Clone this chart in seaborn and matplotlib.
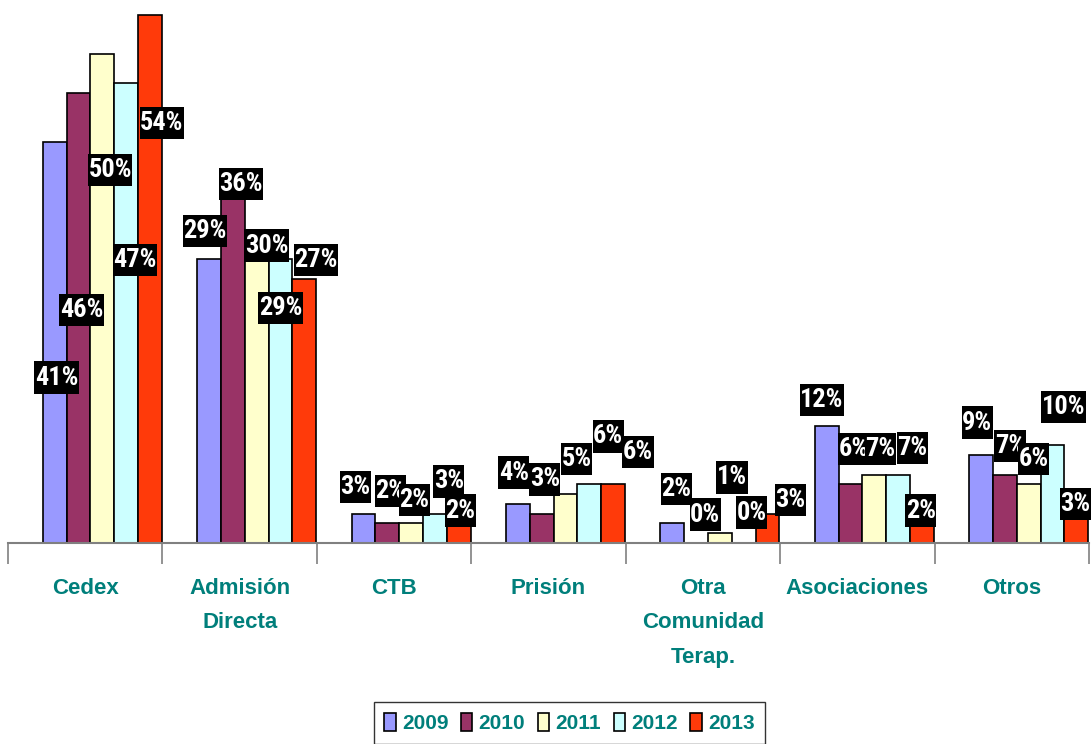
import matplotlib
matplotlib.use("Agg")
import matplotlib.pyplot as plt
from matplotlib.path import Path
from matplotlib.ticker import FixedLocator
import seaborn as sns
import pandas as pd

# Share of admissions by referral source, per year (%)
categories = ["Cedex", "Admisión\nDirecta", "CTB", "Prisión",
              "Otra\nComunidad\nTerap.", "Asociaciones", "Otros"]
years = ["2009", "2010", "2011", "2012", "2013"]
v2009 = [41, 29, 3, 4, 2, 12, 9]
v2010 = [46, 36, 2, 3, 0, 6, 7]
v2011 = [50, 30, 2, 5, 1, 7, 6]
v2012 = [47, 29, 3, 6, 0, 7, 10]
v2013 = [54, 27, 2, 6, 3, 2, 3]
values = [v2009, v2010, v2011, v2012, v2013]

# Where each value box sits (height in % units, sideways nudge in pixels)
label_y = [
    [16.9, 31.9, 5.7, 7.2, 5.5, 14.6, 12.3],
    [23.8, 36.7, 5.3, 6.5, 2.9, 9.6, 9.9],
    [38.1, 30.4, 4.4, 8.6, 6.7, 9.6, 8.6],
    [28.9, 24.0, 6.3, 10.9, 3.1, 9.7, 13.9],
    [42.9, 28.9, 3.3, 9.3, 4.4, 3.3, 4.0],
]
label_dx = [
    [2, -4, -8, -4, 4, -5, -4],
    [3, 8, 3, 3, 9, 3, 5],
    [8, 10, 3, 11, 12, 6, 5],
    [9, 0, 14, 19, 8, 14, 11],
    [12, 12, 2, 25, 23, -1, -1],
]

colors = ["#9999FF", "#993366", "#FFFFCC", "#CCFFFF", "#FF3A0A"]
teal = "#007F7B"

df = pd.DataFrame({
    "categoria": [c for _ in years for c in categories],
    "año": [y for y in years for _ in categories],
    "pct": [v for series in values for v in series],
})


class TallBox:
    """Rectangular text box with separate horizontal / vertical padding."""

    def __init__(self, padx=0.02, pady=0.16):
        self.padx, self.pady = padx, pady

    def __call__(self, x0, y0, width, height, mutation_size):
        px, py = self.padx * mutation_size, self.pady * mutation_size
        x0, y0 = x0 - px, y0 - py
        x1, y1 = x0 + width + 2 * px, y0 + height + 2 * py
        return Path([(x0, y0), (x1, y0), (x1, y1), (x0, y1), (x0, y0)],
                    closed=True)


sns.set_theme(style="white")
plt.rcParams["font.family"] = ["Liberation Sans", "DejaVu Sans"]
narrow = ["Roboto Condensed", "Archivo Narrow", "Barlow Condensed",
          "Liberation Sans"]

fig = plt.figure(figsize=(10.91, 7.44), dpi=100)
ax = fig.add_axes([8 / 1091, 201 / 744, 1081 / 1091, 543 / 744])

sns.barplot(data=df, x="categoria", y="pct", hue="año", order=categories,
            hue_order=years, palette=colors, width=0.77, gap=0,
            edgecolor="black", linewidth=1.2, saturation=1, ax=ax,
            legend=False)

shift = 0.11  # groups sit slightly right of their category slot
n = len(categories)
ax.set_xlim(-0.5 - shift, n - 0.5 - shift)
ax.set_ylim(0, 55.5)

# value boxes
for k, cont in enumerate(ax.containers):
    for j, bar in enumerate(cont.patches):
        xc = bar.get_x() + bar.get_width() / 2
        ax.annotate(f"{values[k][j]}%", xy=(xc, label_y[k][j]),
                    xytext=(label_dx[k][j], 0), textcoords="offset pixels",
                    ha="center", va="center", color="white",
                    fontsize=19, fontweight="bold", family=narrow, zorder=5,
                    bbox=dict(boxstyle=TallBox(), fc="black", ec="none"))

# axis: category names centred in slots, tick marks at slot boundaries
centers = [i - shift for i in range(n)]
ax.set_xticks(centers)
ax.set_xticklabels(categories, fontsize=16, fontweight="bold", color=teal,
                   linespacing=1.85, va="top")
ax.xaxis.set_minor_locator(FixedLocator([i - 0.5 - shift for i in range(n + 1)]))
ax.tick_params(axis="x", which="major", length=0, pad=25)
ax.tick_params(axis="x", which="minor", length=15, width=1.2,
               color="#808080", direction="out", bottom=True)
ax.set_xlabel("")
ax.set_ylabel("")
ax.set_yticks([])
for side in ["left", "right", "top"]:
    ax.spines[side].set_visible(False)
ax.spines["bottom"].set_color("#808080")
ax.spines["bottom"].set_linewidth(1.5)

# legend
handles = [cont.patches[0] for cont in ax.containers]
leg = fig.legend(handles, years, loc="upper center", ncol=5,
                 bbox_to_anchor=(0.522, 0.07), frameon=True,
                 fancybox=False, edgecolor="black", handlelength=0.55,
                 handleheight=1.0, handletextpad=0.3, columnspacing=0.6,
                 borderpad=0.5,
                 prop={"size": 15, "weight": "bold"})
leg.get_frame().set_linewidth(1.0)
for t in leg.get_texts():
    t.set_color(teal)

fig.savefig("out.png", dpi=100)
